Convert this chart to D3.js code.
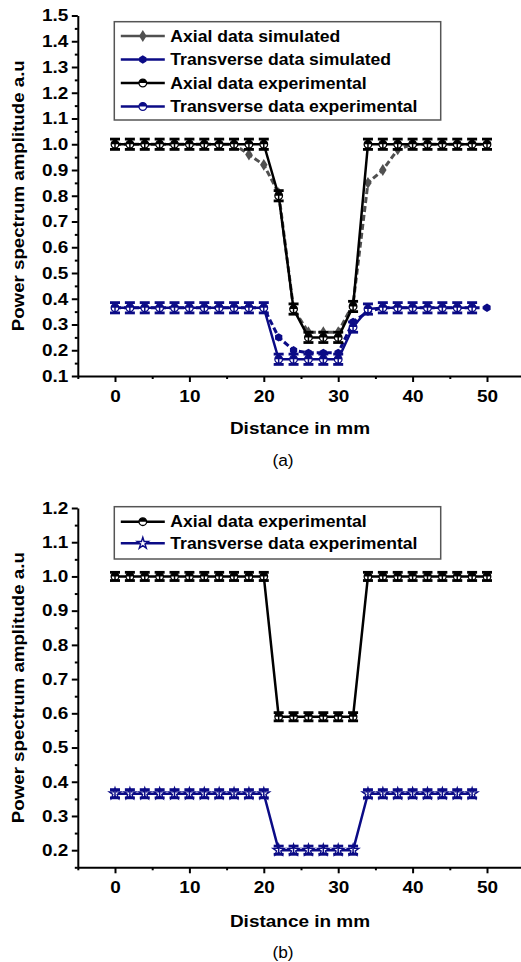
<!DOCTYPE html>
<html><head><meta charset="utf-8">
<script src="https://cdn.jsdelivr.net/npm/d3@7"></script>
<style>body{margin:0;background:#fff}svg{display:block}</style>
</head><body>
<svg id="c" width="521" height="962"></svg>
<script>
// ---------- DATA ----------
const distTop = [0,2,4,6,8,10,12,14,16,18,20,22,24,26,28,30,32,34,36,38,40,42,44,46,48,50];
const axialSimTop = [1.0,1.0,1.0,1.0,1.0,1.0,1.0,1.0,1.0,0.96,0.92,0.81,0.36,0.27,0.27,0.27,0.38,0.85,0.90,0.98,1.0,1.0,1.0,1.0,1.0,1.0];
const transSimTop = [0.365,0.365,0.365,0.365,0.365,0.365,0.365,0.365,0.365,0.365,0.365,0.25,0.20,0.19,0.19,0.19,0.31,0.35,0.365,0.365,0.365,0.365,0.365,0.365,0.365,0.365];
const axialExpTop = [1.0,1.0,1.0,1.0,1.0,1.0,1.0,1.0,1.0,1.0,1.0,0.80,0.36,0.25,0.25,0.25,0.37,1.0,1.0,1.0,1.0,1.0,1.0,1.0,1.0,1.0];
const distTransExpTop = [0,2,4,6,8,10,12,14,16,18,20,22,24,26,28,30,32,34,36,38,40,42,44,46,48];
const transExpTop = [0.365,0.365,0.365,0.365,0.365,0.365,0.365,0.365,0.365,0.365,0.365,0.165,0.165,0.165,0.165,0.165,0.29,0.36,0.365,0.365,0.365,0.365,0.365,0.365,0.365];
const errTop = 0.02;

const distAxialBot = [0,2,4,6,8,10,12,14,16,18,20,22,24,26,28,30,32,34,36,38,40,42,44,46,48,50];
const axialExpBot = [1.0,1.0,1.0,1.0,1.0,1.0,1.0,1.0,1.0,1.0,1.0,0.59,0.59,0.59,0.59,0.59,0.59,1.0,1.0,1.0,1.0,1.0,1.0,1.0,1.0,1.0];
const distTransBot = [0,2,4,6,8,10,12,14,16,18,20,22,24,26,28,30,32,34,36,38,40,42,44,46,48];
const transExpBot = [0.365,0.365,0.365,0.365,0.365,0.365,0.365,0.365,0.365,0.365,0.365,0.20,0.20,0.20,0.20,0.20,0.20,0.365,0.365,0.365,0.365,0.365,0.365,0.365,0.365];
const errBot = 0.012;

const xMajor = [0,10,20,30,40,50];
const xMinor = [-5,5,15,25,35,45];
const yMajorTop = [0.1,0.2,0.3,0.4,0.5,0.6,0.7,0.8,0.9,1.0,1.1,1.2,1.3,1.4,1.5];
const yMinorTop = [0.15,0.25,0.35,0.45,0.55,0.65,0.75,0.85,0.95,1.05,1.15,1.25,1.35,1.45];
const yMajorBot = [0.2,0.3,0.4,0.5,0.6,0.7,0.8,0.9,1.0,1.1,1.2];
const yMinorBot = [0.15,0.25,0.35,0.45,0.55,0.65,0.75,0.85,0.95,1.05,1.15];

const legendTop = ["Axial data simulated","Transverse data simulated","Axial data experimental","Transverse data experimental"];
const legendBot = ["Axial data experimental","Transverse data experimental"];
const xTitle = "Distance in mm";
const yTitle = "Power spectrum amplitude a.u";

// ---------- STYLE ----------
const GREY = "#505050", NAVY = "#0b0b86", BLACK = "#000";
const FONT = "'Liberation Sans', Arial, sans-serif";
const SX = 1.15;

const svg = d3.select("#c");
svg.append("rect").attr("width",521).attr("height",962).attr("fill","#fff");

function stretchedText(g, x, y, str, size, anchor, sx, weight, rotate) {
  return g.append("text")
    .attr("transform", `translate(${x},${y})` + (rotate ? ` rotate(${rotate})` : "") + ` scale(${sx},1)`)
    .attr("text-anchor", anchor).attr("dy","0.36em")
    .attr("font-family", FONT).attr("font-weight", weight||"bold").attr("font-size", size)
    .attr("fill","#000").text(str);
}

function hexPath(r) {
  const pts = d3.range(6).map(i => { const a = Math.PI/6 + i*Math.PI/3; return [r*Math.cos(a), r*Math.sin(a)]; });
  return "M" + pts.map(p => p.join(",")).join("L") + "Z";
}
const halfTop = r => d3.arc().innerRadius(0).outerRadius(r).startAngle(-Math.PI/2).endAngle(Math.PI/2)();

function drawMarker(g, type, color) {
  if (type === "diamond") {
    g.append("path").attr("d", d3.symbol(d3.symbolDiamond, 40)()).attr("fill", color).attr("transform","scale(1.1,1)");
  } else if (type === "hex") {
    g.append("path").attr("d", hexPath(4.2)).attr("fill", color);
  } else if (type === "half") {
    g.append("circle").attr("r",3.8).attr("fill","#fff").attr("stroke",color).attr("stroke-width",1.3);
    g.append("path").attr("d", halfTop(3.8)).attr("fill",color);
  } else if (type === "star") {
    g.append("path").attr("d", d3.symbol(d3.symbolStar, 40)()).attr("fill","#fff").attr("stroke",color).attr("stroke-width",1.4);
  }
}

function drawPanel(opt) {
  const g = svg.append("g");
  const x = d3.scaleLinear().domain([-5,55]).range([77.8, 77.8 + 60*7.44]);
  const y = d3.scaleLinear().domain(opt.yDomain).range(opt.yRange);
  const yBase = opt.yRange[0];

  // axes
  const ax = g.append("g").attr("transform",`translate(0,${yBase})`)
    .call(d3.axisBottom(x).tickValues(xMajor).tickSize(6).tickSizeOuter(0).tickFormat(d3.format("d")));
  ax.selectAll("text").attr("font-family",FONT).attr("font-weight","bold").attr("font-size",16.5)
    .attr("fill","#000").attr("y",14).attr("transform",`scale(${SX},1)`);
  const axm = g.append("g").attr("transform",`translate(0,${yBase})`)
    .call(d3.axisBottom(x).tickValues(xMinor).tickSize(3).tickSizeOuter(0).tickFormat(""));
  axm.select(".domain").remove();

  const ay = g.append("g").attr("transform",`translate(77.8,0)`)
    .call(d3.axisLeft(y).tickValues(opt.yMajor).tickSize(6).tickSizeOuter(0).tickFormat(d3.format(".1f")));
  ay.selectAll("text").attr("font-family",FONT).attr("font-weight","bold").attr("font-size",16.5)
    .attr("fill","#000").attr("x",-9.5/SX).attr("transform",`scale(${SX},1)`);
  const aym = g.append("g").attr("transform",`translate(77.8,0)`)
    .call(d3.axisLeft(y).tickValues(opt.yMinor).tickSize(3).tickSizeOuter(0).tickFormat(""));
  aym.select(".domain").remove();
  g.selectAll(".domain, .tick line").attr("stroke","#000").attr("stroke-width",2);

  // titles
  stretchedText(g, 300, opt.xTitleY, xTitle, 16.5, "middle", SX, "bold");
  stretchedText(g, 18, (opt.yRange[0]+opt.yRange[1])/2, yTitle, 17, "middle", 1.1, "bold", -90);
  stretchedText(g, 283, opt.tagY, opt.tag, 16.5, "middle", 1.05, "normal");

  // series
  opt.series.forEach(s => {
    const pts = s.xs.map((d,i) => [x(d), y(s.vals[i])]);
    g.append("path").attr("d", d3.line()(pts)).attr("fill","none").attr("stroke",s.color)
      .attr("stroke-width", s.dash ? 3 : 2.5).attr("stroke-dasharray", s.dash ? "6,3" : null)
      .attr("stroke-linejoin","round");
    s.xs.forEach((d,i) => {
      const mg = g.append("g").attr("transform",`translate(${x(d)},${y(s.vals[i])})`);
      drawMarker(mg, s.marker, s.color);
      if (s.err) {
        const y0 = y(s.vals[i]-s.err) - y(s.vals[i]), y1 = y(s.vals[i]+s.err) - y(s.vals[i]);
        mg.append("line").attr("x1",0).attr("x2",0).attr("y1",y0).attr("y2",y1).attr("stroke",s.color).attr("stroke-width",1.5);
        [y0,y1].forEach(yy => mg.append("line").attr("x1",-5).attr("x2",5).attr("y1",yy).attr("y2",yy)
          .attr("stroke",s.color).attr("stroke-width",2.8));
      }
    });
  });

  // legend
  const L = opt.legend;
  g.append("rect").attr("x",L.x).attr("y",L.y).attr("width",L.w).attr("height",L.h)
    .attr("fill","#fff").attr("stroke","#555").attr("stroke-width",1.5);
  opt.series.forEach((s,i) => {
    const ry = L.y + L.first + i*L.step;
    g.append("line").attr("x1",L.x+6.5).attr("x2",L.x+50.5).attr("y1",ry).attr("y2",ry)
      .attr("stroke",s.color).attr("stroke-width",2.5);
    drawMarker(g.append("g").attr("transform",`translate(${L.x+28.5},${ry})`), s.marker, s.color);
    stretchedText(g, L.x+56, ry, L.labels[i], 16, "start", 1.1, "bold");
  });
}

drawPanel({
  yDomain:[0.1,1.5], yRange:[376,15.5], yMajor:yMajorTop, yMinor:yMinorTop,
  xTitleY:428, tag:"(a)", tagY:460,
  series:[
    {xs:distTop, vals:axialSimTop, color:GREY, marker:"diamond", dash:true},
    {xs:distTop, vals:transSimTop, color:NAVY, marker:"hex", dash:true},
    {xs:distTop, vals:axialExpTop, color:BLACK, marker:"half", err:errTop},
    {xs:distTransExpTop, vals:transExpTop, color:NAVY, marker:"half", err:errTop}
  ],
  legend:{x:114.3, y:21.7, w:326.4, h:98.3, first:14.3, step:23.5, labels:legendTop}
});

drawPanel({
  yDomain:[0.15,1.2], yRange:[867.3,508], yMajor:yMajorBot, yMinor:yMinorBot,
  xTitleY:921, tag:"(b)", tagY:952.5,
  series:[
    {xs:distAxialBot, vals:axialExpBot, color:BLACK, marker:"half", err:errBot},
    {xs:distTransBot, vals:transExpBot, color:NAVY, marker:"star", err:errBot}
  ],
  legend:{x:114.3, y:506.7, w:326.4, h:52.3, first:15, step:21.6, labels:legendBot}
});
</script>
</body></html>
